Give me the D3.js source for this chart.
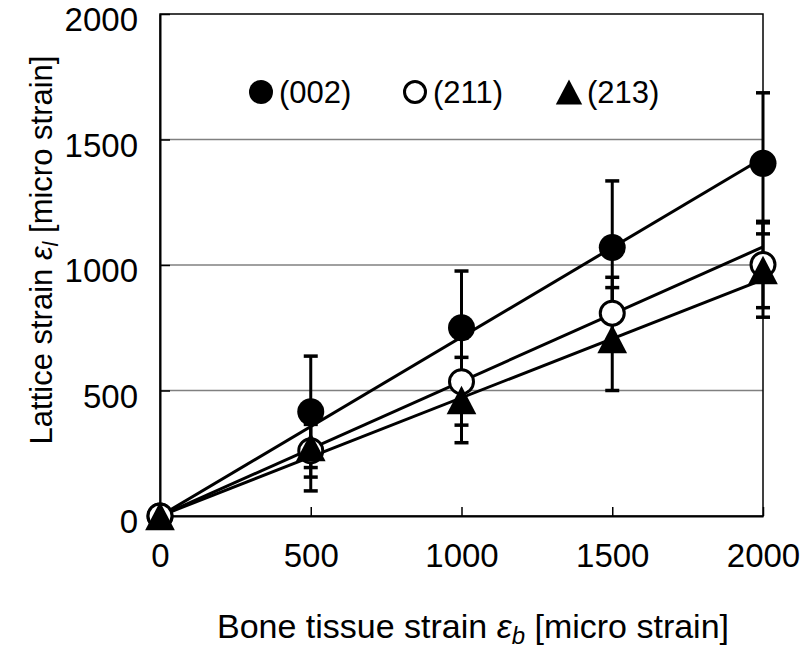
<!DOCTYPE html>
<html>
<head>
<meta charset="utf-8">
<script src="https://cdn.jsdelivr.net/npm/d3@7"></script>
<style>
  body { margin: 0; background: #fff; }
  text { font-family: "Liberation Sans", Arial, sans-serif; fill: #000; }
</style>
</head>
<body>
<svg id="chart" width="802" height="650"></svg>
<script>
// values
var strainB = [0, 500, 1000, 1500, 2000];
var mean002 = [0, 415, 750, 1070, 1405];
var err002 = [0, 222, 226, 265, 281];
var mean211 = [0, 260, 535, 808, 1002];
var err211 = [0, 105, 173, 143, 172];
var mean213 = [0, 275, 462, 705, 980];
var err213 = [0, 175, 170, 205, 188];
var trendSlope = [0.713, 0.536, 0.471];
var seriesNames = ["(002)", "(211)", "(213)"];
var xTicks = [0, 500, 1000, 1500, 2000];
var yTicks = [0, 500, 1000, 1500, 2000];

var svg = d3.select("#chart");
var plotL = 160, plotR = 763, plotT = 14, plotB = 516;

var x = d3.scaleLinear().domain([0, 2000]).range([plotL, plotR]);
var y = d3.scaleLinear().domain([0, 2000]).range([plotB, plotT]);

// grid lines
svg.selectAll(".grid")
  .data(yTicks.filter(function(d) { return d > 0 && d < 2000; }))
  .enter()
  .append("line")
  .attr("x1", plotL).attr("x2", plotR)
  .attr("y1", function(d) { return y(d); })
  .attr("y2", function(d) { return y(d); })
  .attr("stroke", "#808080")
  .attr("stroke-width", 1.5);

// frame
svg.append("rect")
  .attr("x", plotL).attr("y", plotT)
  .attr("width", plotR - plotL).attr("height", plotB - plotT)
  .attr("fill", "none").attr("stroke", "#000").attr("stroke-width", 1.5);

// axes with inside ticks
var xAxis = svg.append("g")
  .attr("transform", "translate(0," + plotB + ")")
  .call(d3.axisBottom(x).tickValues(xTicks).tickFormat(d3.format("d"))
    .tickSizeInner(-9).tickSizeOuter(0).tickPadding(28));
var yAxis = svg.append("g")
  .attr("transform", "translate(" + plotL + ",0)")
  .call(d3.axisLeft(y).tickValues(yTicks).tickFormat(d3.format("d"))
    .tickSizeInner(-10).tickSizeOuter(0).tickPadding(22));
[xAxis, yAxis].forEach(function(a) {
  a.select(".domain").attr("stroke", "#000").attr("stroke-width", 2);
  a.selectAll(".tick line").attr("stroke", "#000").attr("stroke-width", 1.5);
  a.selectAll(".tick text")
    .style("font-family", "'Liberation Sans', Arial, sans-serif")
    .style("font-size", "33px")
    .attr("fill", "#000");
});
xAxis.selectAll(".tick text").attr("dy", "0.71em");
yAxis.selectAll(".tick text").attr("dy", "0.5em");

var series = [
  { mean: mean002, err: err002, shape: "filled" },
  { mean: mean211, err: err211, shape: "open" },
  { mean: mean213, err: err213, shape: "triangle" }
];

// trend lines through origin
series.forEach(function(s, i) {
  svg.append("line")
    .attr("x1", x(0)).attr("y1", y(0))
    .attr("x2", x(2000)).attr("y2", y(trendSlope[i] * 2000))
    .attr("stroke", "#000").attr("stroke-width", 3);
});

// error bars
series.forEach(function(s) {
  strainB.forEach(function(b, j) {
    if (s.err[j] === 0) return;
    var cx = x(b);
    var lo = y(s.mean[j] - s.err[j]), hi = y(s.mean[j] + s.err[j]);
    svg.append("line")
      .attr("x1", cx).attr("x2", cx).attr("y1", lo).attr("y2", hi)
      .attr("stroke", "#000").attr("stroke-width", 3);
    [lo, hi].forEach(function(v) {
      svg.append("line")
        .attr("x1", cx - 7).attr("x2", cx + 7).attr("y1", v).attr("y2", v)
        .attr("stroke", "#000").attr("stroke-width", 3.5);
    });
  });
});

function drawMarker(g, shape, cx, cy, size) {
  if (shape === "filled") {
    g.append("circle").attr("cx", cx).attr("cy", cy).attr("r", size)
      .attr("fill", "#000");
  } else if (shape === "open") {
    g.append("circle").attr("cx", cx).attr("cy", cy).attr("r", size - 1.5)
      .attr("fill", "#fff").attr("stroke", "#000").attr("stroke-width", 3);
  } else {
    var w = size * 1.1, h = size * 1.05;
    g.append("path")
      .attr("d", "M" + cx + "," + (cy - h) + "L" + (cx + w) + "," + (cy + h) + "L" + (cx - w) + "," + (cy + h) + "Z")
      .attr("fill", "#000");
  }
}

// markers
series.forEach(function(s) {
  var g = svg.append("g");
  strainB.forEach(function(b, j) {
    drawMarker(g, s.shape, x(b), y(s.mean[j]), 13.5);
  });
});

// legend
var legendX = [261, 415, 569];
var legend = svg.append("g");
series.forEach(function(s, i) {
  drawMarker(legend, s.shape, legendX[i], 92, 12);
  legend.append("text")
    .attr("x", legendX[i] + 18).attr("y", 92).attr("dy", "0.36em")
    .style("font-size", "31px")
    .text(seriesNames[i]);
});

// axis titles
var xt = svg.append("text")
  .attr("x", 473).attr("y", 638)
  .attr("text-anchor", "middle")
  .style("font-size", "34px");
xt.append("tspan").text("Bone tissue strain ");
xt.append("tspan").style("font-style", "italic").text("ε");
xt.append("tspan").style("font-style", "italic").style("font-size", "24px").attr("dy", 6).text("b");
xt.append("tspan").attr("dy", -6).text(" [micro strain]");

var yt = svg.append("text")
  .attr("transform", "translate(52,250) rotate(-90)")
  .attr("text-anchor", "middle")
  .style("font-size", "31px");
yt.append("tspan").text("Lattice strain ");
yt.append("tspan").style("font-style", "italic").text("ε");
yt.append("tspan").style("font-style", "italic").style("font-size", "22px").attr("dy", 6).text("l");
yt.append("tspan").attr("dy", -6).text(" [micro strain]");
</script>
</body>
</html>
